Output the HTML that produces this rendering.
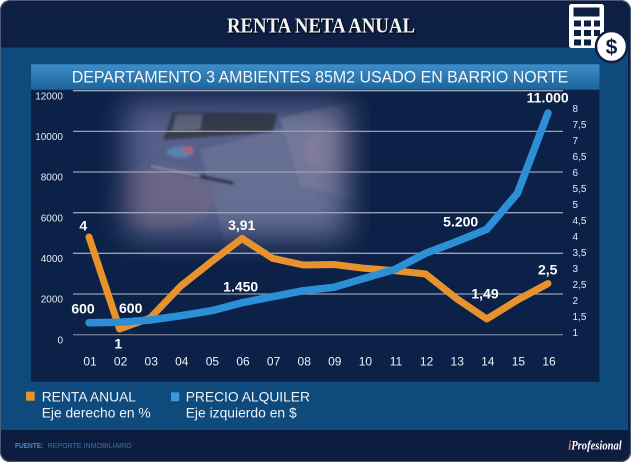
<!DOCTYPE html>
<html><head><meta charset="utf-8">
<style>html,body{margin:0;padding:0;background:#fff;}svg{display:block}</style>
</head><body>
<svg width="631" height="462" viewBox="0 0 631 462" xmlns="http://www.w3.org/2000/svg">
<defs>
<linearGradient id="bar" x1="0" y1="0" x2="0" y2="1"><stop offset="0" stop-color="#3f8ec7"/><stop offset="1" stop-color="#1c649b"/></linearGradient>
<filter id="bl" x="-50%" y="-50%" width="200%" height="200%"><feGaussianBlur stdDeviation="15"/></filter>
<filter id="bl2" x="-20%" y="-20%" width="140%" height="140%"><feGaussianBlur stdDeviation="3"/></filter>
<filter id="bl1" x="-10%" y="-10%" width="120%" height="120%"><feGaussianBlur stdDeviation="1.2"/></filter>
<mask id="pm"><rect x="125" y="102" width="222" height="136" fill="#fff" filter="url(#bl)"/></mask>
<clipPath id="frame"><rect x="0" y="0" width="631" height="462" rx="10"/></clipPath>
</defs>
<g clip-path="url(#frame)">
<rect width="631" height="462" fill="#0d1f42"/>
<rect x="0" y="47.5" width="628" height="382.5" fill="#0f4a7d"/>
<rect x="0" y="430" width="631" height="32" fill="#0c1d3f"/>
</g>
<rect x="0.5" y="0.5" width="630" height="461" rx="10" fill="none" stroke="#4a5a78" stroke-width="1"/>

<!-- title -->
<text x="228.5" y="33.8" font-family="Liberation Serif, serif" font-weight="bold" font-size="21" fill="#000" opacity="0.75" textLength="188" lengthAdjust="spacingAndGlyphs">RENTA NETA ANUAL</text>
<text x="227" y="32.3" font-family="Liberation Serif, serif" font-weight="bold" font-size="21" fill="#f4f4f4" textLength="188" lengthAdjust="spacingAndGlyphs">RENTA NETA ANUAL</text>

<!-- calculator icon -->
<rect x="569" y="4" width="35" height="44" rx="2.5" fill="#ffffff"/>
<rect x="573.5" y="7.5" width="26" height="9" fill="#0d1f42"/>
<g fill="#0d1f42">
<rect x="574" y="20.5" width="7" height="6"/><rect x="584" y="20.5" width="7" height="6"/><rect x="594" y="20.5" width="6" height="6"/>
<rect x="574" y="30" width="7" height="6"/><rect x="584" y="30" width="7" height="6"/><rect x="594" y="30" width="6" height="6"/>
<rect x="574" y="39.5" width="7" height="6"/><rect x="584" y="39.5" width="7" height="6"/>
</g>
<circle cx="611.5" cy="46.5" r="15.5" fill="#ffffff" stroke="#0d1f42" stroke-width="2.5"/>
<text x="611.5" y="54" text-anchor="middle" font-family="Liberation Sans, sans-serif" font-weight="bold" font-size="21" fill="#0d1f42">$</text>

<!-- subtitle bar -->
<rect x="31" y="64.3" width="568.5" height="25.5" fill="url(#bar)"/>
<text x="71.7" y="82.3" font-family="Liberation Sans, sans-serif" font-size="17" fill="#f2f6fa" textLength="496.6" lengthAdjust="spacingAndGlyphs">DEPARTAMENTO 3 AMBIENTES 85M2 USADO EN BARRIO NORTE</text>

<!-- chart panel -->
<rect x="31" y="89.8" width="568.5" height="292" fill="#0c2147"/>

<!-- photo -->
<g mask="url(#pm)">
<rect x="100" y="88" width="270" height="175" fill="#56608a"/>
<g filter="url(#bl1)">
<polygon points="200,150 370,105 370,262 230,262" fill="#666e94"/>
<polygon points="280,118 370,98 370,205 300,185" fill="#737799"/>
<ellipse cx="160" cy="198" rx="55" ry="32" fill="#6a6688" filter="url(#bl2)"/>
<ellipse cx="335" cy="150" rx="30" ry="22" fill="#827d9c" filter="url(#bl2)"/>
<polygon points="173,112 277,113 273,132 163,140" fill="#383c4c"/>
<polygon points="176,114 203,114 200,130 172,132" fill="#62667a"/>
<ellipse cx="180" cy="152" rx="13" ry="6" fill="#5a7fb0"/>
<ellipse cx="188" cy="150" rx="6" ry="4" fill="#a6687a"/>
<line x1="150" y1="166" x2="232" y2="183" stroke="#2e3242" stroke-width="3.5" stroke-linecap="round"/>
<line x1="150" y1="166" x2="200" y2="176" stroke="#9aa0b8" stroke-width="1.8"/>
</g>
</g>

<!-- gridlines -->
<g stroke="#97a1b6" stroke-width="1.3">
<line x1="73" y1="90.7" x2="563" y2="90.7"/>
<line x1="73" y1="131.4" x2="563" y2="131.4"/>
<line x1="73" y1="172" x2="563" y2="172"/>
<line x1="73" y1="212.7" x2="563" y2="212.7"/>
<line x1="73" y1="253.3" x2="563" y2="253.3"/>
<line x1="73" y1="294" x2="563" y2="294"/>
<line x1="73" y1="334.7" x2="563" y2="334.7" stroke="#6a7890"/>
</g>

<!-- left axis -->
<g font-family="Liberation Sans, sans-serif" font-size="10" fill="#e6ebf2" text-anchor="end">
<text x="63" y="99.3">12000</text>
<text x="63" y="140">10000</text>
<text x="63" y="180.6">8000</text>
<text x="63" y="221.3">6000</text>
<text x="63" y="262">4000</text>
<text x="63" y="302.6">2000</text>
<text x="63" y="343.3">0</text>
</g>

<!-- right axis -->
<g font-family="Liberation Sans, sans-serif" font-size="10" fill="#e6ebf2">
<text x="572.5" y="111.9">8</text>
<text x="572.5" y="127.9">7,5</text>
<text x="572.5" y="143.9">7</text>
<text x="572.5" y="159.9">6,5</text>
<text x="572.5" y="175.9">6</text>
<text x="572.5" y="191.9">5,5</text>
<text x="572.5" y="207.9">5</text>
<text x="572.5" y="223.9">4,5</text>
<text x="572.5" y="239.9">4</text>
<text x="572.5" y="255.9">3,5</text>
<text x="572.5" y="271.9">3</text>
<text x="572.5" y="287.9">2,5</text>
<text x="572.5" y="303.9">2</text>
<text x="572.5" y="319.9">1,5</text>
<text x="572.5" y="335.9">1</text>
</g>

<!-- x axis -->
<g font-family="Liberation Sans, sans-serif" font-size="12" fill="#eef2f7" text-anchor="middle">
<text x="90" y="365.3">01</text>
<text x="120.6" y="365.3">02</text>
<text x="151.2" y="365.3">03</text>
<text x="181.8" y="365.3">04</text>
<text x="212.4" y="365.3">05</text>
<text x="243" y="365.3">06</text>
<text x="273.6" y="365.3">07</text>
<text x="304.2" y="365.3">08</text>
<text x="334.8" y="365.3">09</text>
<text x="365.4" y="365.3">10</text>
<text x="396" y="365.3">11</text>
<text x="426.6" y="365.3">12</text>
<text x="457.2" y="365.3">13</text>
<text x="487.8" y="365.3">14</text>
<text x="518.4" y="365.3">15</text>
<text x="549" y="365.3">16</text>
</g>

<!-- series -->
<polyline fill="none" stroke="#e8922d" stroke-width="7" stroke-linejoin="round" stroke-linecap="round"
 points="89,237 119.6,329 150.2,318 180.8,286 211.4,261.7 242,238.5 272.6,258.3 303.2,265 333.8,264.5 364.4,268.3 395,270.7 425.6,274 456.2,298.3 486.8,319 517.4,300 548,283.5"/>
<polyline fill="none" stroke="#2d8fd6" stroke-width="7.5" stroke-linejoin="round" stroke-linecap="round"
 points="89,322.7 119.6,322.3 150.2,320 180.8,315.7 211.4,310.7 242,302.7 272.6,296.7 303.2,290.7 333.8,287.3 364.4,278.3 395,269.3 425.6,253.3 456.2,241.7 486.8,229.3 517.4,193.3 548,113"/>

<!-- data labels -->
<g font-family="Liberation Sans, sans-serif" font-size="14" font-weight="bold" fill="#ffffff" text-anchor="middle">
<text x="83.3" y="230.7">4</text>
<text x="83" y="313.3">600</text>
<text x="130.7" y="313">600</text>
<text x="118.3" y="348.3">1</text>
<text x="241.7" y="230">3,91</text>
<text x="240.7" y="291.7">1.450</text>
<text x="460.7" y="226.7">5.200</text>
<text x="547.7" y="102.3">11.000</text>
<text x="485" y="298.3">1,49</text>
<text x="547.7" y="274.3">2,5</text>
</g>

<!-- legend -->
<rect x="26" y="391.7" width="8.7" height="9" fill="#e8922d"/>
<rect x="171" y="392.3" width="8.3" height="9" fill="#3a98d9"/>
<g font-family="Liberation Sans, sans-serif" font-size="14" fill="#eef3f8">
<text x="41.7" y="401.7" textLength="94.3" lengthAdjust="spacingAndGlyphs">RENTA ANUAL</text>
<text x="41.7" y="417.3" textLength="109" lengthAdjust="spacingAndGlyphs">Eje derecho en %</text>
<text x="185.7" y="401.5" textLength="124.3" lengthAdjust="spacingAndGlyphs">PRECIO ALQUILER</text>
<text x="185.7" y="417.3" textLength="111" lengthAdjust="spacingAndGlyphs">Eje izquierdo en $</text>
</g>

<!-- footer -->
<text x="15" y="448" font-family="Liberation Sans, sans-serif" font-size="7" font-weight="bold" fill="#4f86c8" textLength="28.3" lengthAdjust="spacingAndGlyphs">FUENTE:</text>
<text x="47.7" y="448" font-family="Liberation Sans, sans-serif" font-size="7" fill="#416fa8" textLength="84" lengthAdjust="spacingAndGlyphs">REPORTE INMOBILIARIO</text>
<text x="568.3" y="449.3" font-family="Liberation Serif, serif" font-style="italic" font-weight="bold" font-size="12.5" fill="#ffffff" textLength="53.4" lengthAdjust="spacingAndGlyphs"><tspan fill="#e8922d">i</tspan>Profesional</text>
</svg>
</body></html>
